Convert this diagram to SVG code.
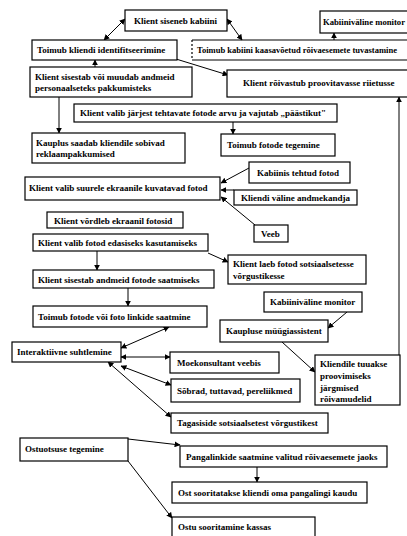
<svg xmlns="http://www.w3.org/2000/svg" width="407" height="536" viewBox="0 0 407 536">
<style>
.b{fill:#fff;stroke:#000;stroke-width:1.2}
.t{font-family:"Liberation Serif","Times New Roman",serif;font-size:9px;font-weight:bold;fill:#000}
.c{stroke:#000;stroke-width:1;fill:none}
</style>
<defs>
<marker id="a" viewBox="0 0 10 10" refX="9" refY="5" markerWidth="6" markerHeight="6" markerUnits="userSpaceOnUse" orient="auto-start-reverse">
<path d="M0,0 L10,5 L0,10 z" fill="#000"/>
</marker>
</defs>
<rect width="407" height="536" fill="#fff"/>
<g id="connectors">
<line class="c" x1="125" y1="19" x2="104" y2="40" marker-start="url(#a)" marker-end="url(#a)"/>
<line class="c" x1="227" y1="19" x2="242" y2="40" marker-start="url(#a)" marker-end="url(#a)"/>
<line class="c" x1="334" y1="40" x2="334" y2="33" marker-end="url(#a)"/>
<line class="c" x1="176" y1="59" x2="228" y2="75" marker-end="url(#a)"/>
<line class="c" x1="95" y1="67" x2="95" y2="60" marker-end="url(#a)"/>
<line class="c" x1="59" y1="97" x2="59" y2="133" marker-end="url(#a)"/>
<line class="c" x1="233" y1="122" x2="233" y2="134" marker-end="url(#a)"/>
<line class="c" x1="399" y1="355" x2="399" y2="97" marker-end="url(#a)"/>
<line class="c" x1="249" y1="168" x2="221" y2="183" marker-end="url(#a)"/>
<line class="c" x1="234" y1="190" x2="221" y2="190" marker-end="url(#a)"/>
<line class="c" x1="255" y1="225" x2="221" y2="197" marker-end="url(#a)"/>
<line class="c" x1="208" y1="253" x2="228" y2="262" marker-end="url(#a)"/>
<line class="c" x1="97" y1="251" x2="97" y2="270" marker-end="url(#a)"/>
<line class="c" x1="128" y1="288" x2="128" y2="306" marker-end="url(#a)"/>
<line class="c" x1="121" y1="348" x2="169" y2="327" marker-start="url(#a)" marker-end="url(#a)"/>
<line class="c" x1="121" y1="357" x2="170" y2="357" marker-start="url(#a)" marker-end="url(#a)"/>
<line class="c" x1="121" y1="366" x2="171" y2="385" marker-start="url(#a)" marker-end="url(#a)"/>
<line class="c" x1="108" y1="362" x2="171" y2="417" marker-start="url(#a)" marker-end="url(#a)"/>
<line class="c" x1="347" y1="312" x2="328" y2="328" marker-end="url(#a)"/>
<line class="c" x1="282" y1="342" x2="315" y2="372" marker-end="url(#a)"/>
<line class="c" x1="128" y1="439" x2="180" y2="445" marker-end="url(#a)"/>
<line class="c" x1="128" y1="461" x2="172" y2="518" marker-end="url(#a)"/>
<line class="c" x1="257" y1="467" x2="257" y2="482" marker-end="url(#a)"/>
</g>
<g id="n1"><rect class="b" x="125" y="10" width="102" height="21"/><text class="t" x="134" y="23.5">Klient siseneb kabiini</text></g>
<g id="n2"><rect class="b" x="320" y="11" width="95" height="22"/><text class="t" x="323" y="25" textLength="82" lengthAdjust="spacingAndGlyphs">Kabiiniväline monitor</text></g>
<g id="n3"><rect class="b" x="32" y="40" width="145" height="20"/><text class="t" x="37" y="53">Toimub kliendi identifitseerimine</text></g>
<g id="n4"><path d="M192,40 H407 M192,60 H407" stroke="#000" stroke-width="1.2" fill="none"/><path d="M192,40 V60" stroke="#000" stroke-width="1.2" stroke-dasharray="2,2" fill="none"/><text class="t" x="197" y="53" textLength="200" lengthAdjust="spacingAndGlyphs">Toimub kabiini kaasavõetud rõivaesemete tuvastamine</text></g>
<g id="n5"><rect class="b" x="30" y="67" width="162" height="30"/><text class="t" x="35" y="79.5">Klient sisestab või muudab andmeid</text><text class="t" x="35" y="91">personaalseteks pakkumisteks</text></g>
<g id="n6"><rect class="b" x="227" y="70" width="190" height="27"/><text class="t" x="243" y="86">Klient rõivastub proovitavasse riietusse</text></g>
<g id="n7"><rect class="b" x="74" y="104" width="263" height="18"/><text class="t" x="80" y="116">Klient valib järjest tehtavate fotode arvu ja vajutab „päästikut"</text></g>
<g id="n8"><rect class="b" x="32" y="133" width="153" height="30"/><text class="t" x="36" y="145.5">Kauplus saadab kliendile sobivad</text><text class="t" x="36" y="157">reklaampakkumised</text></g>
<g id="n9"><rect class="b" x="221" y="134" width="114" height="22"/><text class="t" x="227" y="148">Toimub fotode tegemine</text></g>
<g id="n10"><rect class="b" x="25" y="177" width="195" height="23"/><text class="t" x="29" y="191">Klient valib suurele ekraanile kuvatavad fotod</text></g>
<g id="n11"><rect class="b" x="249" y="162" width="101" height="21"/><text class="t" x="257" y="175.5">Kabiinis tehtud fotod</text></g>
<g id="n12"><rect class="b" x="234" y="190" width="123" height="15"/><text class="t" x="241" y="201">Kliendi väline andmekandja</text></g>
<g id="n13"><rect class="b" x="254" y="225" width="34" height="17"/><text class="t" x="261" y="237">Veeb</text></g>
<g id="n14"><rect class="b" x="47" y="212" width="136" height="16"/><text class="t" x="54" y="223.5">Klient võrdleb ekraanil fotosid</text></g>
<g id="n15"><rect class="b" x="33" y="234" width="175" height="17"/><text class="t" x="38" y="246">Klient valib fotod edasiseks kasutamiseks</text></g>
<g id="n16"><rect class="b" x="228" y="255" width="138" height="29"/><text class="t" x="233" y="267">Klient laeb fotod sotsiaalsetesse</text><text class="t" x="233" y="279">võrgustikesse</text></g>
<g id="n17"><rect class="b" x="33" y="270" width="181" height="18"/><text class="t" x="38" y="282.5">Klient sisestab andmeid fotode saatmiseks</text></g>
<g id="n18"><rect class="b" x="33" y="306" width="174" height="21"/><text class="t" x="38" y="319.5">Toimub fotode või foto linkide saatmine</text></g>
<g id="n19"><rect class="b" x="264" y="292" width="98" height="20"/><text class="t" x="270" y="305">Kabiiniväline monitor</text></g>
<g id="n20"><rect class="b" x="220" y="320" width="108" height="22"/><text class="t" x="226" y="334">Kaupluse müügiassistent</text></g>
<g id="n21"><rect class="b" x="12" y="342" width="109" height="20"/><text class="t" x="17" y="355">Interaktiivne suhtlemine</text></g>
<g id="n22"><rect class="b" x="170" y="352" width="109" height="21"/><text class="t" x="177" y="366">Moekonsultant veebis</text></g>
<g id="n23"><rect class="b" x="315" y="355" width="85" height="50"/><text class="t" x="320" y="367">Kliendile tuuakse</text><text class="t" x="320" y="379">proovimiseks</text><text class="t" x="320" y="391">järgmised</text><text class="t" x="320" y="402">rõivamudelid</text></g>
<g id="n24"><rect class="b" x="171" y="379" width="129" height="23"/><text class="t" x="177" y="394">Sõbrad, tuttavad, pereliikmed</text></g>
<g id="n25"><rect class="b" x="171" y="413" width="157" height="20"/><text class="t" x="177" y="426">Tagasiside sotsiaalsetest võrgustikest</text></g>
<g id="n26"><rect class="b" x="20" y="438" width="108" height="23"/><text class="t" x="25" y="452">Ostuotsuse tegemine</text></g>
<g id="n27"><rect class="b" x="180" y="446" width="207" height="21"/><text class="t" x="186" y="460">Pangalinkide saatmine valitud rõivaesemete jaoks</text></g>
<g id="n28"><rect class="b" x="172" y="482" width="195" height="21"/><text class="t" x="178" y="496">Ost sooritatakse kliendi oma pangalingi kaudu</text></g>
<g id="n29"><rect class="b" x="172" y="517" width="143" height="25"/><text class="t" x="178" y="530">Ostu sooritamine kassas</text></g>
</svg>
